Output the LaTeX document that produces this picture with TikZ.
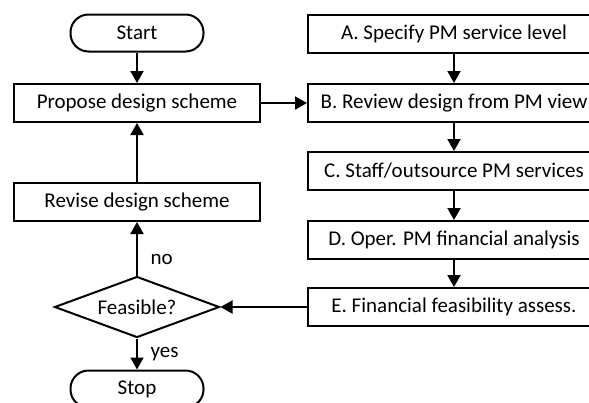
\documentclass[tikz,border=0pt]{standalone}
\usepackage{fontspec}
\setmainfont{Carlito}
\usetikzlibrary{arrows.meta,shapes.geometric}
\tikzset{
	proc/.style={draw, line width=1pt, rectangle, minimum width=123pt, minimum height=19pt, inner sep=0pt},
	stepbox/.style={draw, line width=1pt, rectangle, minimum width=146pt, minimum height=19pt, inner sep=0pt},
	term/.style={draw, line width=1pt, rectangle, rounded corners=9pt, minimum width=66.5pt, minimum height=18.5pt, inner sep=0pt},
	decide/.style={draw, line width=1pt, diamond, aspect=2.7, minimum width=82.5pt, minimum height=30.5pt, inner sep=0pt},
	flow/.style={line width=1pt, -{Triangle[length=6pt,width=6.5pt]}}
}

\begin{document}
\begin{tikzpicture}[x=0.5pt, y=-0.5pt, font=\fontsize{10.5}{12}\selectfont]
			%%%%% START %%%%%
			
			\useasboundingbox (0, 0) rectangle (589, 402);
			\clip (0, 0) rectangle (589, 402);
			
			\node[term] (start) at (137, 33) {Start};
			\node[proc] (propose) at (137, 103) {Propose design scheme};
			\node[proc] (revise) at (137, 202) {Revise design scheme};
			\node[decide] (feasible) at (137, 307) {Feasible?};
			\node[term] (stop) at (137, 389) {Stop};
			
			\node[stepbox] (specify) at (454, 34) {A. Specify PM service level};
			\node[stepbox] (review) at (454, 103) {B. Review design from PM view};
			\node[stepbox] (staff) at (454, 171) {C. Staff/outsource PM services};
			\node[stepbox] (oper) at (454, 240) {D. Oper. PM financial analysis};
			\node[stepbox] (assess) at (454, 307) {E. Financial feasibility assess.};
			
			\draw[flow] (start) -- (propose);
			\draw[flow] (propose) -- (review);
			\draw[flow] (specify) -- (review);
			\draw[flow] (review) -- (staff);
			\draw[flow] (staff) -- (oper);
			\draw[flow] (oper) -- (assess);
			\draw[flow] (assess) -- (feasible);
			\draw[flow] (feasible) -- node[pos=0.3, right=3pt] (no) {no} (revise);
			\draw[flow] (revise) -- (propose);
			\draw[flow] (feasible) -- node[right=3pt] (yes) {yes} (stop);
			
			%%%%% END %%%%%
		\end{tikzpicture}
\end{document}
